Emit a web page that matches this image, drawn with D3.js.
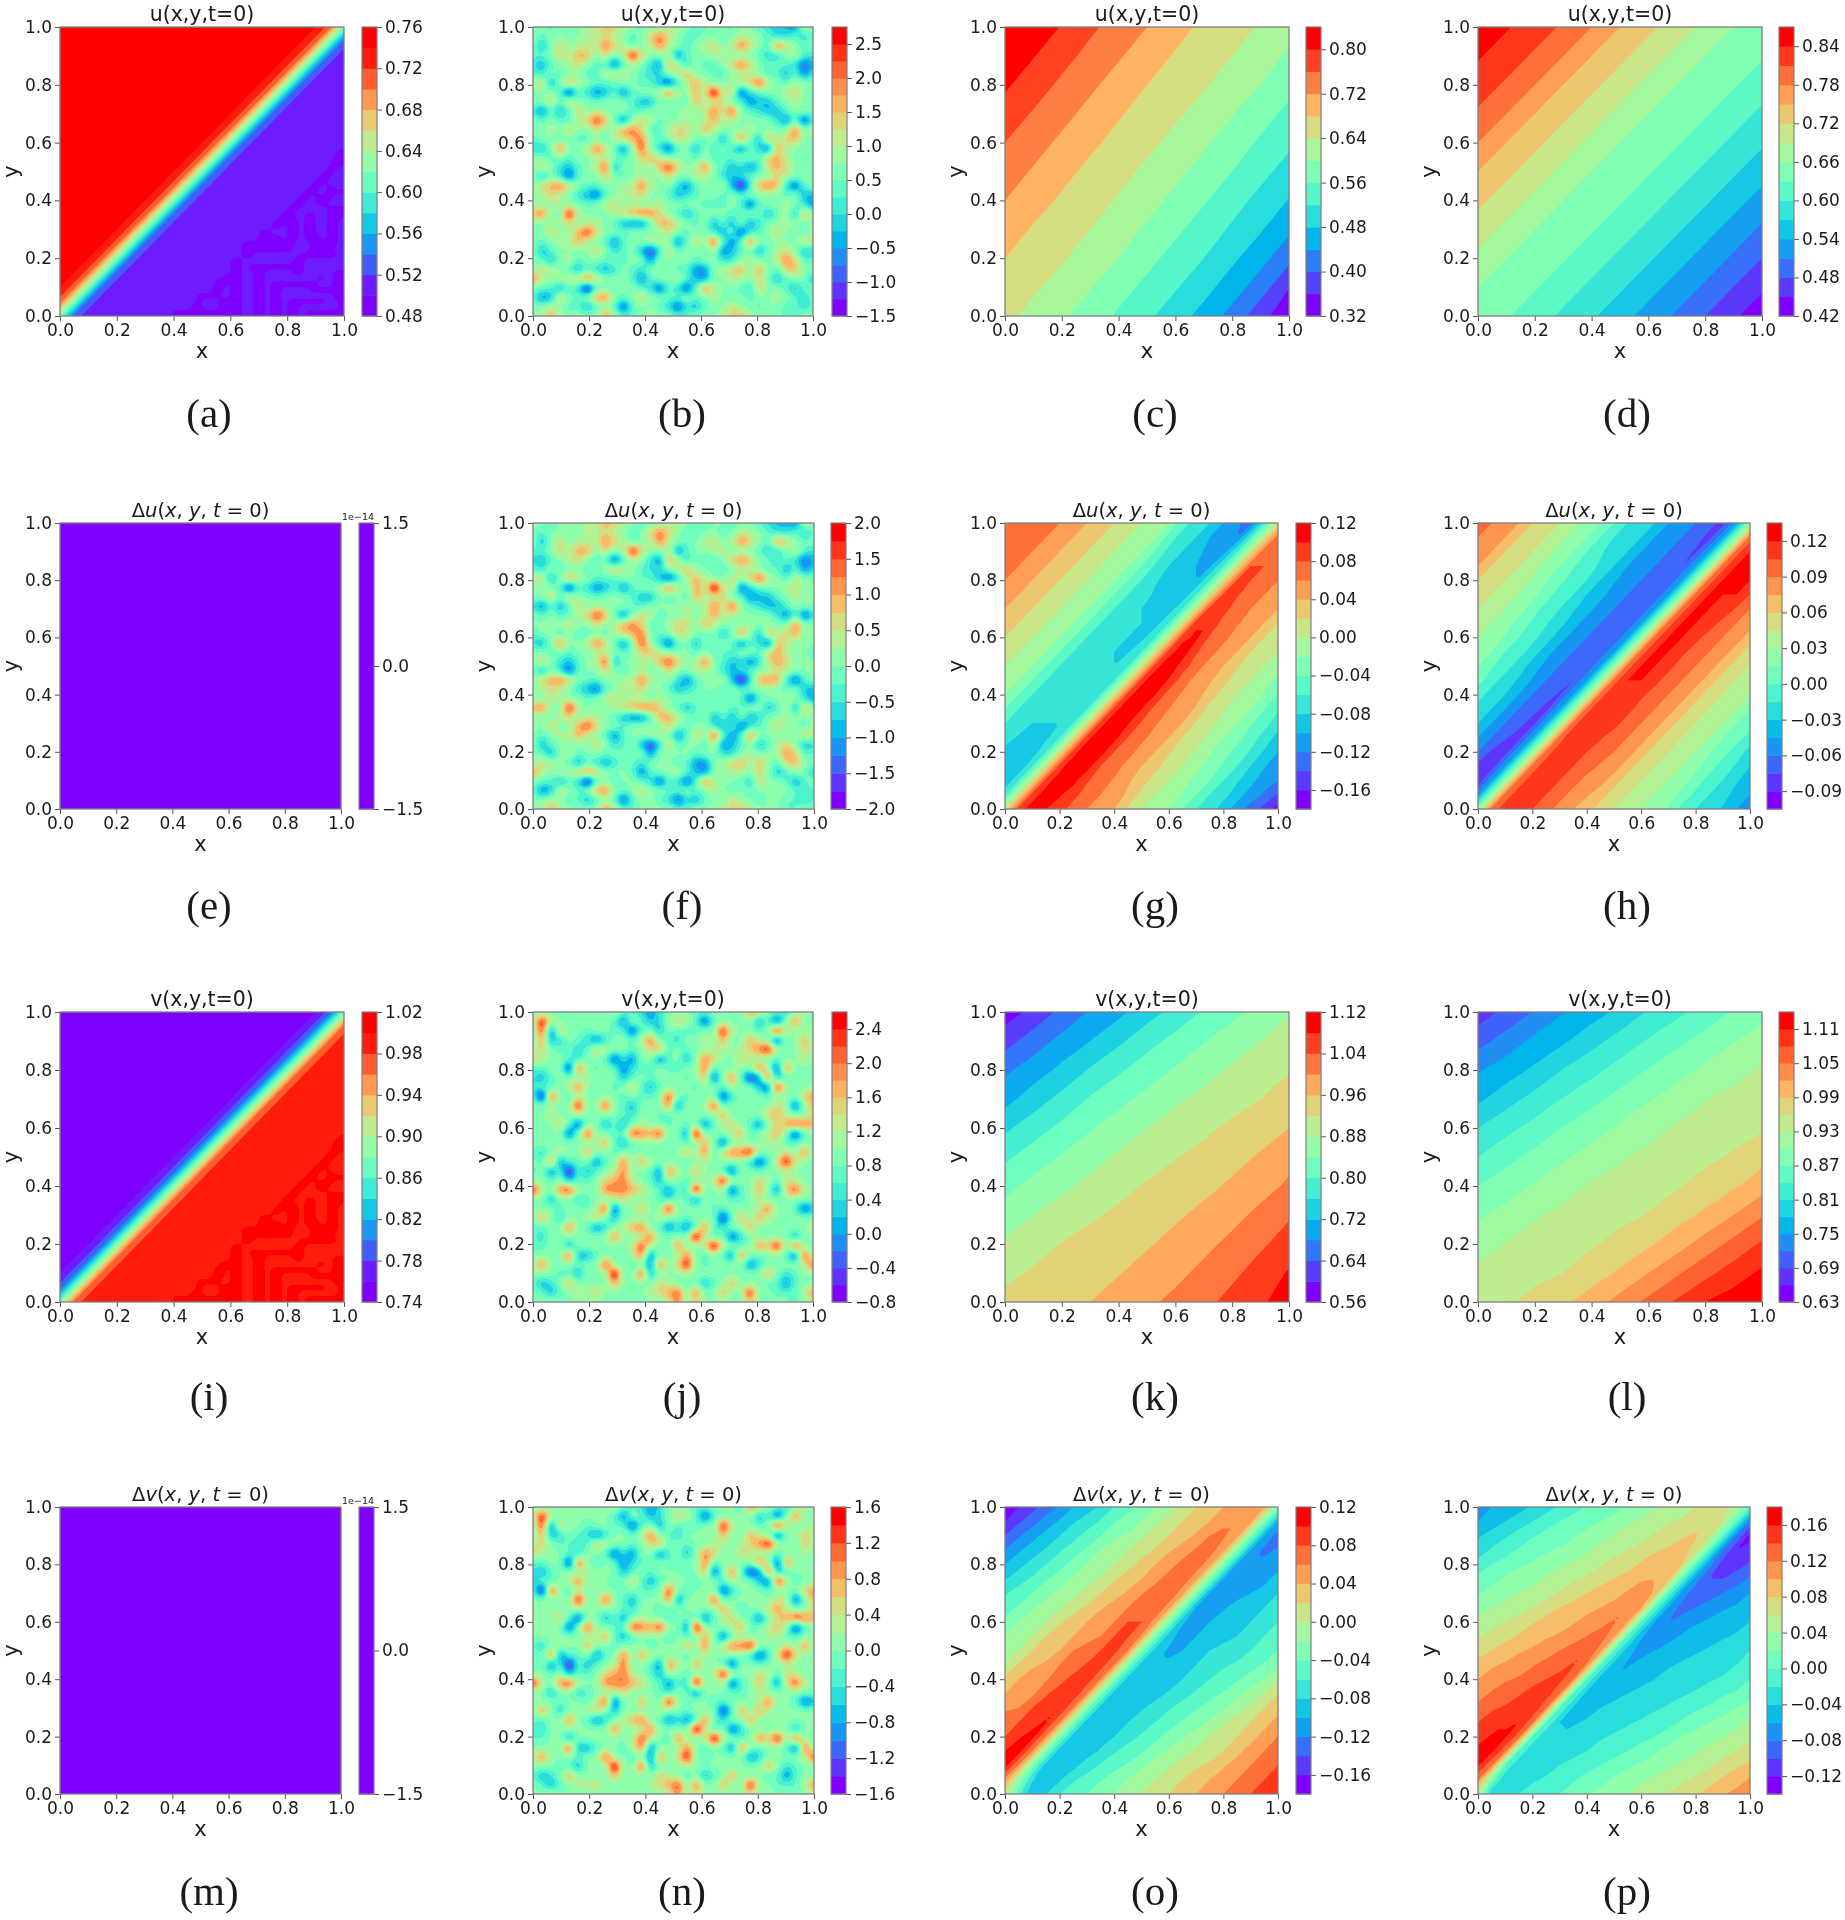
<!DOCTYPE html>
<html><head><meta charset="utf-8">
<style>
html,body{margin:0;padding:0;background:#fff}
svg{display:block;filter:blur(0.35px)}
text{font-family:"DejaVu Sans",sans-serif;fill:#1a1a1a}
</style>
<script src="https://cdnjs.cloudflare.com/ajax/libs/d3/7.8.5/d3.min.js"></script>
</head><body><div id="c"></div>
<script>
// ---- colour-band ranges: [lowest level, step, number of bands]
const bandsA=[0.48,0.02,14], bandsB=[-1.5,0.25,17], bandsC=[0.32,0.04,13], bandsD=[0.42,0.03,15];
const bandsE=[-1.5,3,1], bandsF=[-2,0.25,16], bandsG=[-0.18,0.02,15], bandsH=[-0.105,0.015,16];
const bandsI=[0.74,0.02,14], bandsJ=[-0.8,0.2,17], bandsK=[0.56,0.04,14], bandsL=[0.63,0.03,17];
const bandsM=[-1.5,3,1], bandsN=[-1.6,0.2,16], bandsO=[-0.18,0.02,15], bandsP=[-0.14,0.02,16];
// ---- colourbar tick labels
const ticksA=[0.48,0.52,0.56,0.60,0.64,0.68,0.72,0.76], ticksB=[-1.5,-1,-0.5,0,0.5,1,1.5,2,2.5];
const ticksC=[0.32,0.40,0.48,0.56,0.64,0.72,0.80], ticksD=[0.42,0.48,0.54,0.60,0.66,0.72,0.78,0.84];
const ticksE=[-1.5,0,1.5], ticksF=[-2,-1.5,-1,-0.5,0,0.5,1,1.5,2];
const ticksG=[-0.16,-0.12,-0.08,-0.04,0,0.04,0.08,0.12], ticksH=[-0.09,-0.06,-0.03,0,0.03,0.06,0.09,0.12];
const ticksI=[0.74,0.78,0.82,0.86,0.90,0.94,0.98,1.02], ticksJ=[-0.8,-0.4,0,0.4,0.8,1.2,1.6,2,2.4];
const ticksK=[0.56,0.64,0.72,0.80,0.88,0.96,1.04,1.12], ticksL=[0.63,0.69,0.75,0.81,0.87,0.93,0.99,1.05,1.11];
const ticksM=[-1.5,0,1.5], ticksN=[-1.6,-1.2,-0.8,-0.4,0,0.4,0.8,1.2,1.6];
const ticksO=[-0.16,-0.12,-0.08,-0.04,0,0.04,0.08,0.12], ticksP=[-0.12,-0.08,-0.04,0,0.04,0.08,0.12,0.16];
const axisTicks=[0,0.2,0.4,0.6,0.8,1];
// ---- estimated field values, top row first. Front panels: base-36 digit = half bands above the lowest level.
const rowsA=["rrrrrrrrrrrrrrrrrrqne","rrrrrrrrrrrrrrrrrqne5","rrrrrrrrrrrrrrrrqne53","rrrrrrrrrrrrrrrqne533","rrrrrrrrrrrrrrqne5333","rrrrrrrrrrrrrqne53333","rrrrrrrrrrrrqne533333","rrrrrrrrrrrqne5333333","rrrrrrrrrrqne53333333","rrrrrrrrrqne533333333","rrrrrrrrqne5333333333","rrrrrrrqne53333333333","rrrrrrqne533333333333","rrrrrqne5333333333333","rrrrqne53333333333333","rrrqne533333333333333","rrqne5333333333333333","rqne53333333333333333","qne533333333333333333","ne5333333333333333333","e53333333333333333333"];
const rowsI=["11111111111111111125e","1111111111111111125en","111111111111111125enp","11111111111111125enpp","1111111111111125enppp","111111111111125enpppp","11111111111125enppppp","1111111111125enpppppp","111111111125enppppppp","11111111125enpppppppp","1111111125enppppppppp","111111125enpppppppppp","11111125enppppppppppp","1111125enpppppppppppp","111125enppppppppppppp","11125enpppppppppppppp","1125enppppppppppppppp","125enpppppppppppppppp","25enppppppppppppppppp","5enpppppppppppppppppp","enppppppppppppppppppp"];
const rowsG=["qppoonmlkjihgdba865cj","ppoonmlkjihgdba876cjp","poonmlkjihgeba887cjqq","oonmlkjihgeca988cjqqp","onmlkjihgeca988cjqqpo","nmlkjihgecba98cjqqpon","mlkjihgecbaa9cjrrponm","lkjihgecbaa9cjsrponmk","kjihgecbaa9cjrtqpnmkj","jihgecbaaacjrtqpnmkji","ihgecbaaacjrurpnmkjih","hgecbaaacjruspnmljihf","gecbaaacjrusponljihge","ecbaaacjrusponmjihgec","cbaaacjrusqonmkjhgedb","baaacjrutqpnmkjhgfdb9","988cjrutqpnmkjigfdca8","88cjrutqpnmljihfeca86","8cjrttqpomljihfeca976","cjrtsrponmjihgecb9764","jrtsrponmkihgecb97531"];
const rowsH=["rqpomlkjhgecba876538h","qpomlkjhgecba876538hr","pomlkjhgecba876548hru","omlkjhgedca876548hruu","mlkjigfdca876548hruuu","lkjihfdca976548hruuus","kjihfdca976548hruuusq","jihfecb976548hruutrqp","ihgedb976548hruutrqpn","hgedb976548hruusrqpnl","gedb976548hruutrqpnlk","fdba86548hruutrqpnlkj","dba86548hruusrqpnlkji","ba86538hruttrqpnlkjig","a86538hruttrqpnlkjigf","86438hrutsrqpnlkjigfd","6438hrttsrqpnlkjigfdb","338hrttsrqpnlkjihfdca","28hrttsrppnlkjihfdca9","7hrttsrponlkjihfecb98","hrtssrponlkjihgdcba87"];
const rowsO=["1235689acdfghjklmnnmf","24578abcefghjklmoonf8","4679abdeggijklmoonf85","689acdeghijkmnopnf856","89bcdfghijlmnppnf8777","abcefghiklmnppnf87779","cdefhhjklmopqnf87789a","deghijkmnoqqnf87899ab","fghiklmnoqqnf87899abc","ghiklmooqqof9789aabcd","hiklmooqrof9889aabcde","ikmmopqrof9889abccdef","lmnoprrof9999abcdefgi","mnnqrsof9999abcdefhik","ooqrsof999abcdefghikl","pqrsof999abcdefgijkln","qstof999abcdfghijklno","stof999acdefghijklnop","tof999bcdeghijkkmnopq","nf99acdefghijklmnopqr","ke8acdegghijklmnopqrr"];
const rowsP=["7889abcdeffghiijkkkje","89abcdeffghiijkklmke6","abcdeffghhijjklmmle61","bcdefgghijjklmmnle623","defgghiijkllmnnme7334","ffghhijkklmnoone74456","ghhijjklmnnopoe755678","hijjklmnnopqoe8567889","jjklmnnoppqoe8678899a","kllmnoopqrpe877899aab","lmnoopqrspe97899aabbc","noopqrrsqe9899aabbbcc","opqqrstqe989aabbbccde","pqrsttqe99aaabbccdeef","rsstuqea9aabbccdeefgh","stuureaaabbccddefghhi","tuureaabbccddefghhijj","vvreabbccddefghhijjkl","uqeabbccdefgghiijklmm","qeabccdeffghiijkklmno","labcdeefghiijkklmnopp"];
// smooth panels: values in half bands above the lowest level, 11 x 11 points
const gridC=[[26,24.9,23.9,22.4,21.2,20,18.7,17.6,16.7,15.8,14.7],[25.1,24.1,22.7,21.4,20.2,19,17.8,16.9,16,14.9,13.7],[24.3,23,21.6,20.4,19.2,18,17.1,16.2,15.1,14,12.6],[23.2,21.8,20.6,19.4,18.2,17.2,16.3,15.3,14.1,12.8,11.5],[22,20.8,19.6,18.4,17.4,16.5,15.4,14.3,13.1,11.7,10.4],[21,19.8,18.6,17.5,16.6,15.6,14.5,13.3,12,10.6,9.2],[20,18.8,17.7,16.8,15.8,14.7,13.5,12.2,10.8,9.4,7.9],[19,17.8,16.9,16,14.9,13.7,12.4,11.1,9.7,8.2,6.4],[18,17.1,16.2,15.1,14,12.6,11.3,10,8.4,6.7,4.6],[17.2,16.3,15.3,14.1,12.8,11.5,10.2,8.7,7,5,2.1],[16.5,15.4,14.3,13.1,11.7,10.4,8.9,7.3,5.3,2.7,0.6]];
const gridD=[[29,28.2,27,25.7,24,22,20.5,19,17.5,16,15.1],[28.2,27,25.7,24,22,20.5,19,17.5,16,15.1,14.2],[27,25.7,24,22,20.5,19,17.5,16,15.1,14.2,12.9],[25.7,24,22,20.5,19,17.5,16,15.1,14.2,12.9,11.6],[24,22,20.5,19,17.5,16,15.1,14.2,12.9,11.6,10.3],[22,20.5,19,17.5,16,15.1,14.2,12.9,11.6,10.3,8.8],[20.5,19,17.5,16,15.1,14.2,12.9,11.6,10.3,8.8,7.2],[19,17.5,16,15.1,14.2,12.9,11.6,10.3,8.8,7.2,5.7],[17.5,16,15.1,14.2,12.9,11.6,10.3,8.8,7.2,5.7,4],[16,15.1,14.2,12.9,11.6,10.3,8.8,7.2,5.7,4,2.3],[15.1,14.2,12.9,11.6,10.3,8.8,7.2,5.7,4,2.3,0.8]];
const gridK=[[1,2.6,4.5,6.2,7.5,9.1,10.7,12.2,13.5,14.7,15.9],[3.2,5,6.6,8,9.6,11.3,12.6,13.9,15,16,16.7],[5.6,7,8.5,10.2,11.7,13,14.2,15.3,16.3,17.1,17.9],[7.3,9,10.6,12.2,13.4,14.6,15.7,16.5,17.3,18,18.9],[9.6,11.1,12.5,13.8,15,16,16.8,17.6,18.4,19.2,20],[11.6,13,14.2,15.3,16.3,17.1,17.9,18.6,19.4,20.2,21.4],[13.4,14.6,15.6,16.5,17.4,18.2,18.9,19.5,20.3,21.3,22.3],[14.9,16,16.9,17.7,18.4,19.1,19.7,20.5,21.4,22.5,23.8],[16.3,17.1,18.1,18.7,19.2,19.8,20.6,21.5,22.5,23.7,24.8],[17.4,18.3,18.8,19.4,19.9,20.7,21.5,22.5,23.6,24.8,26.2],[18.7,19,19.5,20,20.8,21.6,22.5,23.5,24.6,25.7,27]];
const gridL=[[3,4.5,6.2,7.9,9.1,10.5,12.2,13.5,14.9,16.2,17.3],[5.2,6.9,8.5,9.7,11.3,12.8,14.2,15.5,16.7,17.9,18.9],[7.8,9,10.4,12.1,13.4,14.8,16.1,17.3,18.4,19.4,20.2],[9.6,11.2,12.7,14.1,15.4,16.7,17.8,18.9,19.9,20.5,21],[12,13.4,14.7,16.1,17.2,18.3,19.4,20.2,20.8,21.3,21.8],[14,15.4,16.6,17.7,18.8,19.8,20.4,21,21.6,22.2,23.2],[16,17.1,18.2,19.3,20.2,20.7,21.3,21.8,22.7,23.7,25.2],[17.7,18.7,19.8,20.4,21,21.5,22.1,23.2,24.4,26,27.8],[19.2,20.1,20.7,21.2,21.8,22.6,23.7,25.1,26.9,28.6,30.3],[20.4,20.9,21.5,22,23.1,24.3,26,27.7,29.4,31,32.4],[21.2,21.7,22.6,23.6,24.9,26.8,28.5,30.3,32,33,34]];
const rowsFlat=["00","00"];
// mottled fields, read cell by cell: hex digit = sixteenths of the colour range
const noiseU=["88788899 ba987889 98778878 87655498","87888899 a9878aca 87788789 98766767","858a8999 ca9789c9 8789a89c a87ca878","778a9bb8 a89ea889 47889988 87668976","65789a87 7379864b 968778ac a8777635","76878877 9a987668 9b887789 98775746","9a58b987 77887753 69b98899 ad987988","88872764 5747889c 98b9f9a3 67889a88","88a7a887 88875587 87b99a77 45578988","64757a89 88877888 8989c9d8 76557888","878779ad b748a978 8989b998 88864736","8898a88a 89bca779 aa8b9888 98888c89","78878778 79abc878 a987858c 85b9ab88","658c889c a748d863 78587874 763b9888","88787889 9878ab98 88787778 87ab9887","8a865789 d58898bd a89c8756 46aba888","85863788 a878988a 88998656 788a9888","8abca877 8899c988 64788951 6bcb6378","89a98653 7899a887 56788787 88887855","88998878 9a898898 88877787 37889864","bc88e988 89abcca8 75788877 885795b8","8889a899 875447bb 98785758 56889888","88a88bda 8878888a 87886573 678a8879","87899b98 74788998 47a8d747 c88888a9","8578888a 8678526a 78879457 8579a856","87589788 78788488 88788668 9889ca77","8a987576 56876888 774489ab 8b87ab88","c9899aca 88874788 97548899 8a857885","87757617 87887637 637c9887 6a887578","745a878b c878a887 78789878 78898767","88987757 87378876 365788a8 87887767","89b98888 c9778988 778889ab 98887788"];
const noiseV=["88888888 89776468 88778887 ca876898","9e988888 87487568 a9737888 85738c88","8d4a8878 87737858 77788e98 878e9889","8b568764 68879c87 68898b88 b98388b8","9a87767a 98878ab7 87889989 ace988a9","a9887688 73648847 858ca88a 98878898","77882d87 87467787 788c7888 8c93c888","65788898 88578788 878b38c7 24d57888","67789c88 878a7578 88788798 853e9788","71d87988 8878778d 87888368 887888ac","88888e88 d875888c 4888d788 888a938b","88988988 88768877 88888b87 88ab988a","888a7388 57589887 878479a8 748abdcb","888838d8 877dcbd8 84f8889b 789b8278","88888889 b7578887 878b8388 88997788","768988b8 87888788 8b8c7acc e888a8c8","87c47784 78c8b988 87898888 636aea88","78471757 89c8874c 98b88738 87889888","88785778 abc98759 87889e98 8a97a988","e98cd988 cccba874 76f88937 8b84ad98","88588678 89a88876 87488877 89888888","88878879 d388b88e 88887788 89c88735","8b86889a 85888898 8788827b 8b988888","7788c874 689bc874 647c7688 b8888889","76888888 8c889c88 88f97836 88888588","77885888 8889d987 c889f987 8cae8d88","8888d557 8879c488 8c87874c 878873d8","9c888788 d88784c8 ae878888 4688889d","88877588 8f88d588 89888888 88b86788","7568b888 8b8888a9 878578b8 88774788","8757899a 888889ab d8c88b88 e887779c","88988888 88888889 c8a88888 a8888789"];
// mottled patch in the lower-right corner of panels (a) and (i): x 0.4..1, y 0.6..0
const patchRows=["..............................",".............................1","............................11","............................11","...........................11.","..........................11..",".........................11...","........................11.1..",".......................11..111","......................11.111..",".....................11..11...","....................11.....111","...................11..11..111","..................1111.11..11.",".................11.11.11..11.","...............11...11.11..11.","...............1111.11.111.11.","............111111111...11111.","............111111111...1111..","............11........1111111.","..........11.........11.......","..........11.1111111111.......","..........11..11.....11.....11",".....1..1111..11.........11.11",".......11.11..11.11111111...11",".......11.11..11.11.....111111","....1111..11..11.11.........11","....1...1111..11.11.1111111..1","...11...1111..11.11.11.......1","111111111111..11.11.11.1111111"];
const panelLetters=["a","b","c","d","e","f","g","h","i","j","k","l","m","n","o","p"];
const titleU="u(x,y,t=0)", titleV="v(x,y,t=0)";

// ---- layout
const colLeft=[60,533,1005,1478], rowTop=[27,523,1012,1507], rowH=[289,286,290,287];
const W=[[284,280,284,284],[281,281,273,272]];
const cbGap=[[18,19,17,17],[18,17,18,17]], cbW=15;
const labelX=[209,682,1155,1627], labelY=[427,919,1410,1905];

function rainbow(t){
  const r=Math.min(1,Math.abs(2*t-0.5)), g=Math.sin(Math.PI*t), b=Math.cos(Math.PI*t/2);
  return d3.rgb(r*255,g*255,b*255).formatHex();
}
const svg=d3.select("#c").append("svg").attr("width",1845).attr("height",1920);
const defs=svg.append("defs");
defs.append("filter").attr("id","soft").attr("x","-2%").attr("y","-2%").attr("width","104%").attr("height","104%")
  .append("feGaussianBlur").attr("stdDeviation",0.7);

// light resampling used only for drawing: each read cell is repeated f times and softened
function soften(d,n,m,f,passes){
  const N=n*f,M=m*f; let a=new Array(N*M);
  for(let j=0;j<M;j++)for(let i=0;i<N;i++)a[j*N+i]=d[Math.floor(j/f)*n+Math.floor(i/f)];
  const K=[1,2,3,2,1];
  for(let p=0;p<passes;p++){
    let b=new Array(N*M);
    for(let j=0;j<M;j++)for(let i=0;i<N;i++){let s=0;for(let q=-2;q<=2;q++)s+=K[q+2]*a[j*N+Math.max(0,Math.min(N-1,i+q))];b[j*N+i]=s/9;}
    let c=new Array(N*M);
    for(let j=0;j<M;j++)for(let i=0;i<N;i++){let s=0;for(let q=-2;q<=2;q++)s+=K[q+2]*b[Math.max(0,Math.min(M-1,j+q))*N+i];c[j*N+i]=s/9;}
    a=c;
  }
  return {v:a,n:N,m:M,pad:f/2};
}
// irons the half-band rounding out along the diagonal lines of the front panels
function ironDiagonal(a,n,m,passes){
  for(let p=0;p<passes;p++){
    const b=a.slice();
    for(let j=0;j<m;j++)for(let i=0;i<n;i++){
      const u=(j>0&&i<n-1)?a[(j-1)*n+i+1]:a[j*n+i], w=(j<m-1&&i>0)?a[(j+1)*n+i-1]:a[j*n+i];
      b[j*n+i]=(u+2*a[j*n+i]+w)/4;
    }
    a=b;
  }
  return a;
}
// doubles the drawing grid, taking each cell centre along the front direction so ridges stay joined
function refineDiagonal(a,n,m){
  const N=2*n-1,M=2*m-1,b=new Array(N*M),at=(i,j)=>a[j*n+i];
  for(let j=0;j<M;j++)for(let i=0;i<N;i++){
    const I=i>>1,J=j>>1;let v;
    if(i%2===0&&j%2===0)v=at(I,J);
    else if(i%2===1&&j%2===0)v=(at(I,J)+at(I+1,J))/2;
    else if(i%2===0&&j%2===1)v=(at(I,J)+at(I,J+1))/2;
    else v=(at(I+1,J)+at(I,J+1))/2;
    b[j*N+i]=v;
  }
  return {a:b,n:N,m:M};
}
function decodeRows(rows,band,iron){
  let n=Math.max(...rows.map(r=>r.length)),m=rows.length; let h=[];
  rows.forEach(r=>{for(let i=0;i<n;i++){const c=r[i]||r[r.length-1];h.push(parseInt(c,36));}});
  if(iron){
    h=ironDiagonal(h,n,m,iron);
    for(let p=0;p<2;p++){const s=refineDiagonal(h,n,m);h=s.a;n=s.n;m=s.m;}
  }
  return {v:h.map(x=>band[0]+band[1]*x/2),n,m,pad:0.5};
}
function decodeGrid(grid,band){
  const n=grid[0].length,m=grid.length;
  return {v:grid.flat().map(x=>band[0]+band[1]*x/2),n,m,pad:0.5};
}
function decodeNoise(rows,band){
  const rs=rows.map(r=>r.replace(/\s/g,"")),n=32,d=[];
  rs.forEach(r=>{for(let i=0;i<n;i++)d.push(parseInt(r[i]||"8",16));});
  const s=soften(d,n,rs.length,3,1),mid=8.3,gain=1.25;
  s.v=s.v.map(x=>band[0]+band[1]*(mid+gain*(x-mid)+0.3)*band[2]/16);
  return s;
}
const patch=(function(){
  const d=[];patchRows.forEach(r=>{for(let i=0;i<30;i++)d.push(r[i]==="1"?1:0);});
  return soften(d,30,patchRows.length,3,2);
})();

function tick(v,dec){return d3.format("."+dec+"f")(v);}

function drawPanel(cfg,ci,ri){
  const x0=colLeft[ci], y0=rowTop[ri], w=W[ri%2][ci], h=rowH[ri];
  const g=svg.append("g");
  const [lo,step,N]=cfg.band, levels=d3.range(N+1).map(i=>lo+step*i), e=cfg.edge||0;
  const color=i=>rainbow(N<2||i===0?0:i===N-1?1:(i-e)/(N-1-2*e));
  const id="clip"+cfg.letter;
  defs.append("clipPath").attr("id",id).append("rect").attr("x",x0).attr("y",y0).attr("width",w).attr("height",h);
  const field=g.append("g").attr("clip-path","url(#"+id+")").append("g").attr("filter","url(#soft)");
  const pad=3;
  field.append("rect").attr("x",x0-pad).attr("y",y0-pad).attr("width",w+2*pad).attr("height",h+2*pad).attr("fill",color(0));
  const f=cfg.field;
  const xs=d3.scaleLinear().domain([f.pad,f.n-f.pad]).range([x0,x0+w]);
  const ys=d3.scaleLinear().domain([f.pad,f.m-f.pad]).range([y0,y0+h]);
  const path=d3.geoPath(d3.geoTransform({point(a,b){this.stream.point(xs(a),ys(b));}}));
  const th=levels.slice(1,N);
  if(th.length){
    const conts=d3.contours().size([f.n,f.m]).thresholds(th)(f.v);
    field.selectAll("path.band").data(conts).join("path").attr("class","band")
      .attr("d",path).attr("fill",(d,i)=>color(i+1));
  }
  const X=d3.scaleLinear().domain([0,1]).range([x0,x0+w]), Y=d3.scaleLinear().domain([0,1]).range([y0+h,y0]);
  if(cfg.patchBand!==undefined){
    const pxs=d3.scaleLinear().domain([0,patch.n]).range([0.4,1]);
    const pys=d3.scaleLinear().domain([0,patch.m]).range([0.6,0]);
    const pp=d3.geoPath(d3.geoTransform({point(a,b){this.stream.point(X(pxs(a)),Y(pys(b)));}}));
    const c=d3.contours().size([patch.n,patch.m]).thresholds([0.5])(patch.v);
    field.selectAll("path.patch").data(c).join("path").attr("class","patch").attr("d",pp).attr("fill",color(cfg.patchBand));
  }
  // axes
  const ax=g.append("g").attr("transform",`translate(0,${y0+h})`).call(d3.axisBottom(X).tickValues(axisTicks).tickFormat(d=>tick(d,1)).tickSize(5).tickPadding(3));
  const ay=g.append("g").attr("transform",`translate(${x0},0)`).call(d3.axisLeft(Y).tickValues(axisTicks).tickFormat(d=>tick(d,1)).tickSize(5).tickPadding(3));
  [ax,ay].forEach(a=>{a.selectAll("path.domain").remove();a.selectAll("line").attr("stroke","#555");a.selectAll("text").attr("font-size",17).attr("font-family","DejaVu Sans").attr("fill","#1a1a1a");});
  g.append("rect").attr("x",x0).attr("y",y0).attr("width",w).attr("height",h).attr("fill","none").attr("stroke","#7f7f7f").attr("stroke-width",1.3);
  // labels
  g.append("text").attr("x",x0+w/2).attr("y",y0+h+42).attr("text-anchor","middle").attr("font-size",21).text("x");
  g.append("text").attr("transform",`translate(${x0-42},${y0+h/2}) rotate(-90)`).attr("text-anchor","middle").attr("font-size",21).text("y");
  const t=g.append("text").attr("x",x0+w/2).attr("y",y0-6).attr("text-anchor","middle").attr("font-size",cfg.title?20.5:19.5);
  if(cfg.title){t.text(cfg.title);}
  else{
    [["Δ",0],[cfg.sym,1],["(",0],["x",1],[", ",0],["y",1],[", ",0],["t",1],[" = 0)",0]].forEach(p=>{
      t.append("tspan").attr("font-style",p[1]?"italic":"normal").text(p[0]);
    });
  }
  // colourbar
  const cx=x0+w+cbGap[ri%2][ci];
  const B=d3.scaleLinear().domain([levels[0],levels[N]]).range([y0+h,y0]);
  g.append("g").selectAll("rect").data(d3.range(N)).join("rect")
    .attr("x",cx).attr("width",cbW).attr("y",i=>B(levels[i+1])).attr("height",i=>B(levels[i])-B(levels[i+1])+0.5).attr("fill",color);
  const ac=g.append("g").attr("transform",`translate(${cx+cbW},0)`).call(d3.axisRight(B).tickValues(cfg.ticks).tickFormat(d=>tick(d,cfg.dec)).tickSize(5).tickPadding(3));
  ac.selectAll("path.domain").remove();ac.selectAll("line").attr("stroke","#555");
  ac.selectAll("text").attr("font-size",17).attr("font-family","DejaVu Sans").attr("fill","#1a1a1a");
  g.append("rect").attr("x",cx).attr("y",y0).attr("width",cbW).attr("height",h).attr("fill","none").attr("stroke","#7f7f7f").attr("stroke-width",1.2);
  if(cfg.offset){g.append("text").attr("x",cx+cbW).attr("y",y0-3).attr("text-anchor","end").attr("font-size",9.5).text(cfg.offset);}
  // letter
  g.append("text").attr("x",labelX[ci]).attr("y",labelY[ri]).attr("text-anchor","middle").attr("font-size",41)
    .style("font-family","'Liberation Serif',serif").text("("+cfg.letter+")");
}

const cfgs=[
 {band:bandsA,ticks:ticksA,dec:2,title:titleU,field:decodeRows(rowsA,bandsA),patchBand:0,edge:0.6},
 {band:bandsB,ticks:ticksB,dec:1,title:titleU,field:decodeNoise(noiseU,bandsB)},
 {band:bandsC,ticks:ticksC,dec:2,title:titleU,field:decodeGrid(gridC,bandsC)},
 {band:bandsD,ticks:ticksD,dec:2,title:titleU,field:decodeGrid(gridD,bandsD)},
 {band:bandsE,ticks:ticksE,dec:1,sym:"u",field:decodeRows(rowsFlat,bandsE),offset:"1e\u221214"},
 {band:bandsF,ticks:ticksF,dec:1,sym:"u",field:decodeNoise(noiseU,bandsF)},
 {band:bandsG,ticks:ticksG,dec:2,sym:"u",field:decodeRows(rowsG,bandsG,1)},
 {band:bandsH,ticks:ticksH,dec:2,sym:"u",field:decodeRows(rowsH,bandsH,1)},
 {band:bandsI,ticks:ticksI,dec:2,title:titleV,field:decodeRows(rowsI,bandsI),patchBand:13,edge:0.6},
 {band:bandsJ,ticks:ticksJ,dec:1,title:titleV,field:decodeNoise(noiseV,bandsJ)},
 {band:bandsK,ticks:ticksK,dec:2,title:titleV,field:decodeGrid(gridK,bandsK)},
 {band:bandsL,ticks:ticksL,dec:2,title:titleV,field:decodeGrid(gridL,bandsL)},
 {band:bandsM,ticks:ticksM,dec:1,sym:"v",field:decodeRows(rowsFlat,bandsM),offset:"1e\u221214"},
 {band:bandsN,ticks:ticksN,dec:1,sym:"v",field:decodeNoise(noiseV,bandsN)},
 {band:bandsO,ticks:ticksO,dec:2,sym:"v",field:decodeRows(rowsO,bandsO,1)},
 {band:bandsP,ticks:ticksP,dec:2,sym:"v",field:decodeRows(rowsP,bandsP,1)},
];
cfgs.forEach((c,i)=>{c.letter=panelLetters[i];drawPanel(c,i%4,Math.floor(i/4));});
</script></body></html>
